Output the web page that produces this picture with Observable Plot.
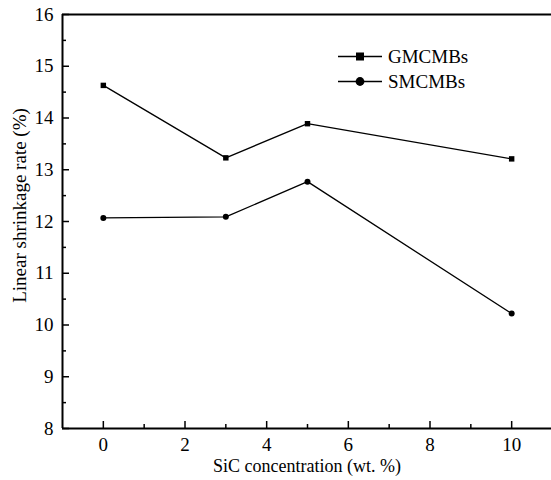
<!DOCTYPE html>
<html><head><meta charset="utf-8">
<script src="https://cdn.jsdelivr.net/npm/d3@7"></script>
<script src="https://cdn.jsdelivr.net/npm/@observablehq/plot@0.6"></script>
<style>
body{margin:0;background:#fff}
#wrap{position:relative;width:551px;height:480px;overflow:hidden}
#wrap svg text, #legend{font-family:"Liberation Serif","Times New Roman",Times,serif !important}
#legend{position:absolute;left:338px;top:44px;font-size:19px;color:#000}
#legend .row{display:flex;align-items:center;height:25px}
#legend svg{margin-right:6px}
</style>
</head><body><div id="wrap"></div>
<script>
const concentrations = [0, 3, 5, 10];
const gmcmbs = [14.63, 13.23, 13.89, 13.21];
const smcmbs = [12.07, 12.09, 12.77, 10.22];
const seriesNames = ["GMCMBs", "SMCMBs"];
const seriesSymbols = ["square", "circle"];
const xMajorTicks = [0, 2, 4, 6, 8, 10];
const xMinorTicks = [1, 3, 5, 7, 9];
const yMajorTicks = [8, 9, 10, 11, 12, 13, 14, 15, 16];
const yMinorTicks = [8.5, 9.5, 10.5, 11.5, 12.5, 13.5, 14.5, 15.5];
const xLabel = "SiC concentration (wt. %)";
const yLabel = "Linear shrinkage rate (%)";

const data = concentrations.flatMap((c, i) => [
  {series: seriesNames[0], x: c, y: gmcmbs[i]},
  {series: seriesNames[1], x: c, y: smcmbs[i]}
]);

const font = "'Liberation Serif', 'Times New Roman', Times, serif";
const chart = Plot.plot({
  width: 551,
  height: 480,
  marginLeft: 62,
  marginRight: 0,
  marginTop: 14,
  marginBottom: 52,
  style: {fontFamily: font, fontSize: "18px", color: "#000", background: "#fff"},
  x: {domain: [-1, 11], range: [62, 552]},
  y: {domain: [8, 16]},
  symbol: {domain: seriesNames, range: seriesSymbols},
  marks: [
    Plot.axisY({ticks: yMajorTicks, tickSize: -7, tickPadding: 16, strokeWidth: 1.5, label: null, fontSize: 19}),
    Plot.axisY({ticks: yMinorTicks, tickSize: -4, tickFormat: () => "", strokeWidth: 1.5, label: null}),
    Plot.axisX({ticks: xMajorTicks, tickSize: -7, tickPadding: 16, strokeWidth: 1.5, label: null, fontSize: 19}),
    Plot.axisX({ticks: xMinorTicks, tickSize: -4, tickFormat: () => "", strokeWidth: 1.5, label: null}),
    Plot.ruleX([-1], {strokeWidth: 2}),
    Plot.ruleY([8, 16], {strokeWidth: 2}),
    Plot.line(data, {x: "x", y: "y", z: "series", stroke: "#000", strokeWidth: 1.3}),
    Plot.dot(data, {x: "x", y: "y", symbol: "series", fill: "#000", stroke: "none", r: d => d.series === seriesNames[0] ? 4.8 : 4.6}),
    Plot.text([yLabel], {text: d => d, frameAnchor: "left", textAnchor: "middle", lineAnchor: "middle", rotate: -90, dx: -43, dy: -16, fontSize: 19}),
    Plot.text([xLabel], {text: d => d, frameAnchor: "bottom", textAnchor: "middle", lineAnchor: "middle", dy: 38, fontSize: 18})
  ]
});
const wrap = document.getElementById("wrap");
wrap.appendChild(chart);

// legend
const legend = document.createElement("div");
legend.id = "legend";
seriesNames.forEach((name, i) => {
  const row = document.createElement("div");
  row.className = "row";
  const shape = seriesSymbols[i] === "square"
    ? `<rect x="18" y="7.5" width="8" height="8" fill="#000"/>`
    : `<circle cx="22" cy="11.5" r="4.4" fill="#000"/>`;
  row.innerHTML = `<svg width="44" height="23"><line x1="0" x2="44" y1="11.5" y2="11.5" stroke="#000" stroke-width="1.3"/>${shape}</svg><span>${name}</span>`;
  legend.appendChild(row);
});
wrap.appendChild(legend);
</script>
</body></html>
